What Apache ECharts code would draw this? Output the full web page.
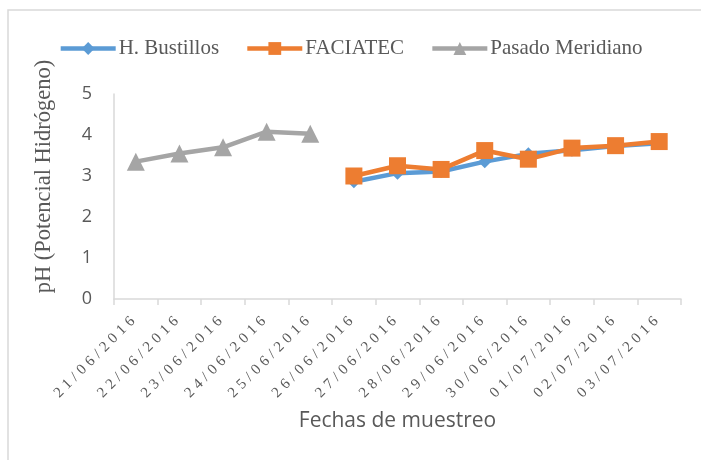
<!DOCTYPE html>
<html><head><meta charset="utf-8">
<script src="https://cdn.jsdelivr.net/npm/echarts@6/dist/echarts.min.js"></script>
<style>html,body{margin:0;padding:0;background:#fff}#c{width:701px;height:460px}</style>
</head><body><div id="c"></div>
<script>
const categories = ['21/06/2016','22/06/2016','23/06/2016','24/06/2016','25/06/2016','26/06/2016','27/06/2016','28/06/2016','29/06/2016','30/06/2016','01/07/2016','02/07/2016','03/07/2016'];
const bustillos = [null,null,null,null,null,2.86,3.07,3.11,3.35,3.54,3.63,3.73,3.80];
const faciatec = [null,null,null,null,null,3.00,3.25,3.16,3.62,3.41,3.68,3.74,3.84];
const pasado = [3.35,3.55,3.70,4.08,4.03,null,null,null,null,null,null,null,null];
const yTicks = [0,1,2,3,4,5];

// letter-spaced date labels (style only; text stays real text)
(function(){
  const proto = CanvasRenderingContext2D.prototype;
  if (!('letterSpacing' in proto)) return;
  const orig = proto.fillText;
  proto.fillText = function(t, x, y, m){
    const spaced = typeof t === 'string' && /^\d\d\/\d\d\/\d{4}$/.test(t);
    this.letterSpacing = spaced ? '4.4px' : '0px';
    const r = m === undefined ? orig.call(this, t, x, y) : orig.call(this, t, x, y, m);
    this.letterSpacing = '0px';
    return r;
  };
})();

const chart = echarts.init(document.getElementById('c'), null, {renderer:'canvas'});
const serif = 'Liberation Serif';
const sans = 'Open Sans';
chart.setOption({
  animation:false,
  backgroundColor:'#fff',
  graphic:[{type:'rect',shape:{x:8,y:10,width:720,height:480},style:{fill:'none',stroke:'#D9D9D9',lineWidth:1.5},silent:true,z:-1}],
  legend:{
    top:33, left:'center', itemWidth:55, itemHeight:16, itemGap:26,
    lineStyle:{width:4.5},
    textStyle:{fontFamily:serif,fontSize:21,color:'#595959',padding:[0,0,0,-2]},
    data:['H. Bustillos','FACIATEC','Pasado Meridiano']
  },
  grid:{left:114,right:20,top:94,bottom:161,containLabel:false},
  xAxis:{
    type:'category', data:categories, boundaryGap:true,
    axisLine:{lineStyle:{color:'#D9D9D9',width:1.5}},
    axisTick:{show:true,length:6,alignWithLabel:false,lineStyle:{color:'#D9D9D9',width:1.5}},
    axisLabel:{rotate:45,interval:0,margin:17,fontFamily:serif,fontSize:15,color:'#595959'},
    name:'Fechas de muestreo', nameLocation:'middle', nameGap:112,
    nameTextStyle:{fontFamily:sans,fontSize:21,color:'#595959'}
  },
  yAxis:{
    type:'value', min:0, max:5, interval:1,
    axisLine:{show:true,lineStyle:{color:'#D9D9D9',width:1.5}},
    axisTick:{show:false},
    splitLine:{show:false},
    axisLabel:{margin:22,fontFamily:sans,fontSize:18,color:'#595959',
      formatter:function(v){return yTicks.indexOf(v)>=0?String(v):'';}},
    name:'pH (Potencial Hidrógeno)', nameLocation:'middle', nameGap:58,
    nameTextStyle:{fontFamily:serif,fontSize:22.5,color:'#595959',padding:[0,0,0,40]}
  },
  series:[
    {name:'H. Bustillos',type:'line',data:bustillos,connectNulls:false,color:'#5B9BD5',
      symbol:'diamond',symbolSize:13,lineStyle:{width:4.5,color:'#5B9BD5'},itemStyle:{color:'#5B9BD5'},z:2},
    {name:'FACIATEC',type:'line',data:faciatec,connectNulls:false,color:'#ED7D31',
      symbol:'rect',symbolSize:17,lineStyle:{width:4.5,color:'#ED7D31'},itemStyle:{color:'#ED7D31'},z:3},
    {name:'Pasado Meridiano',type:'line',data:pasado,connectNulls:false,color:'#A5A5A5',
      symbol:'triangle',symbolSize:18,lineStyle:{width:4.5,color:'#A5A5A5'},itemStyle:{color:'#A5A5A5'},z:4}
  ]
});
</script></body></html>
